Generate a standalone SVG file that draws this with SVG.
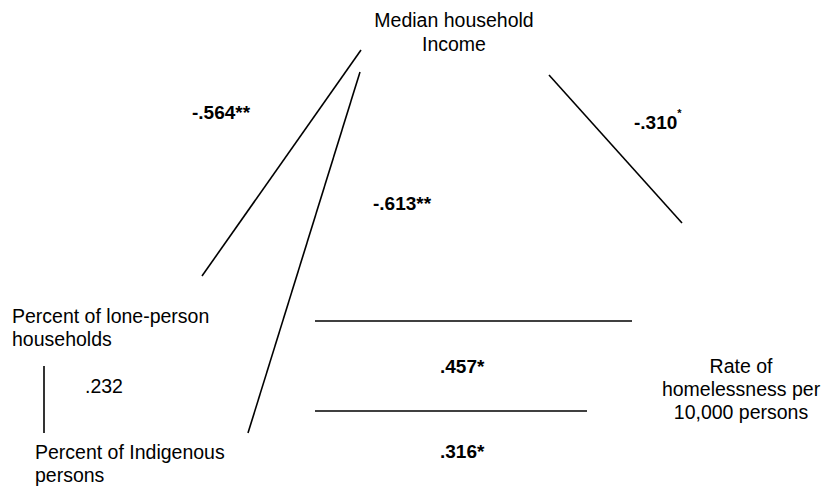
<svg xmlns="http://www.w3.org/2000/svg" width="826" height="487" viewBox="0 0 826 487">
<style>
text{font-family:"Liberation Sans",Arial,sans-serif;font-size:19.5px;fill:#000}
.b{font-weight:bold;font-size:19px}
.sup{font-size:11px}
line{stroke:#000;stroke-width:1.6}
</style>
<rect width="826" height="487" fill="#fff"/>
<g id="connectors">
<line x1="361" y1="50" x2="202" y2="276"/>
<line x1="360" y1="72" x2="248" y2="433"/>
<line x1="549" y1="75" x2="682" y2="223"/>
<line x1="315" y1="321" x2="632" y2="321"/>
<line x1="315" y1="411" x2="587" y2="411"/>
<line x1="44" y1="366" x2="44" y2="433"/>
</g>
<g id="node-income">
<text x="454" y="27" text-anchor="middle">Median household</text>
<text x="454" y="51" text-anchor="middle">Income</text>
</g>
<g id="node-lone">
<text x="12" y="323">Percent of lone-person</text>
<text x="12" y="346">households</text>
</g>
<g id="node-indigenous">
<text x="35" y="459">Percent of Indigenous</text>
<text x="35" y="482">persons</text>
</g>
<g id="node-homeless">
<text x="741" y="373" text-anchor="middle">Rate of</text>
<text x="741" y="396" text-anchor="middle">homelessness per</text>
<text x="741" y="419" text-anchor="middle">10,000 persons</text>
</g>
<g id="labels">
<text class="b" x="192" y="119">-.564**</text>
<text class="b" x="634" y="129">-.310<tspan class="sup" dy="-12">*</tspan></text>
<text class="b" x="373" y="210">-.613**</text>
<text x="85" y="393">.232</text>
<text class="b" x="440" y="373">.457*</text>
<text class="b" x="440" y="458">.316*</text>
</g>
</svg>
